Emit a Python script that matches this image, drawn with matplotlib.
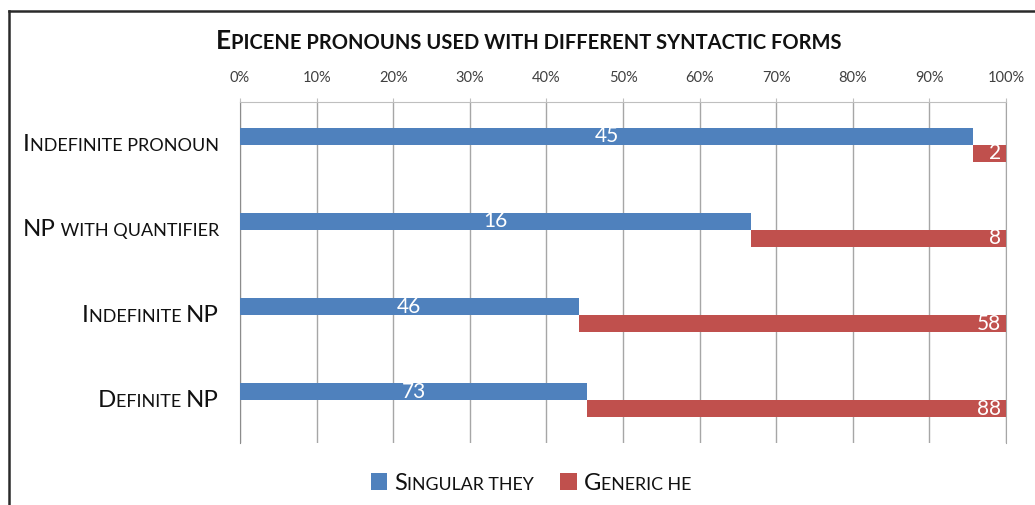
import matplotlib
matplotlib.use("Agg")
import matplotlib.pyplot as plt
import matplotlib.transforms as mtransforms
from matplotlib.offsetbox import TextArea, HPacker, AnnotationBbox, DrawingArea
from matplotlib.patches import Rectangle
from matplotlib.lines import Line2D
import numpy as np

# ---------------- data ----------------
title = "Epicene pronouns used with different syntactic forms"
categories = ["Indefinite pronoun", "NP with quantifier", "Indefinite NP", "Definite NP"]
series_names = ["Singular they", "Generic he"]
singular_they = [45, 16, 46, 73]
generic_he = [2, 8, 58, 88]
tick_values = [0, 10, 20, 30, 40, 50, 60, 70, 80, 90, 100]
tick_labels = [f"{v}%" for v in tick_values]

BLUE = "#4F81BD"
RED = "#C0504D"
FONT = "Lato"
TXT = "#111111"


def smallcaps(s, big, small, color=TXT, weight="normal"):
    runs = []
    for ch in s:
        is_big = ch.isupper() or ch.isdigit()
        if runs and runs[-1][1] == is_big:
            runs[-1][0] += ch.upper()
        else:
            runs.append([ch.upper(), is_big])
    kids = [TextArea(t, textprops=dict(fontsize=big if b else small, color=color,
                                       family=FONT, fontweight=weight))
            for t, b in runs]
    return HPacker(children=kids, align="baseline", pad=0, sep=0)


W, H = 1035, 505
fig = plt.figure(figsize=(W / 100, H / 100), dpi=100)
fig.patch.set_facecolor("white")
ax = fig.add_axes([240 / W, 1 - 443 / H, (1006 - 240) / W, (443 - 102) / H])

they = np.array(singular_they, dtype=float)
he = np.array(generic_he, dtype=float)
share_they = they / (they + he)
share_he = he / (they + he)
y = np.arange(len(categories))

bh = 0.2
ax.barh(y - bh / 2, share_they, height=bh, color=BLUE, zorder=3)
ax.barh(y + bh / 2, share_he, left=share_they, height=bh, color=RED, zorder=3)

ax.set_xlim(0, 1)
ax.set_ylim(len(categories) - 0.5, -0.5)
ax.xaxis.tick_top()
ax.set_xticks(np.array(tick_values) / 100)
ax.set_xticklabels(tick_labels, family=FONT)
ax.tick_params(axis="x", length=3, color="#bfbfbf", pad=9, labelsize=10.5,
               labelcolor="#404040")
ax.set_yticks([])
ax.grid(axis="x", color="#a6a6a6", lw=1)
ax.set_axisbelow(True)
ax.spines["bottom"].set_visible(False)
ax.spines["left"].set_color("#8c8c8c")
ax.spines["top"].set_color("#bfbfbf")
ax.spines["right"].set_color("#a6a6a6")

# data labels
off = mtransforms.offset_copy(ax.transData, fig=fig, x=-5, y=0, units="dots")
for i in range(len(categories)):
    ax.text(share_they[i] / 2, y[i] - bh / 2, str(singular_they[i]), ha="center",
            va="center", color="white", fontsize=15, family=FONT, zorder=4)
    ax.text(1.0, y[i] + bh / 2, str(generic_he[i]), ha="right", va="center",
            color="white", fontsize=15, family=FONT, zorder=4, transform=off)

# category labels (small caps)
for i, c in enumerate(categories):
    ab = AnnotationBbox(smallcaps(c, 17.3, 13), (0, y[i]), xycoords=ax.transData,
                        xybox=(-21 * 0.72, 0), boxcoords="offset points",
                        box_alignment=(1, 0.5), frameon=False, pad=0,
                        annotation_clip=False)
    ax.add_artist(ab)

# title
tb = AnnotationBbox(smallcaps(title[0].upper() + title[1:], 19, 14.5, weight="bold"),
                    (529, H - 41), xycoords="figure pixels",
                    box_alignment=(0.5, 0.5), frameon=False, pad=0)
fig.add_artist(tb)

# legend
def swatch(color):
    da = DrawingArea(12, 12, 0, 0)
    da.add_artist(Rectangle((0, 0), 12, 12, fc=color, ec="none"))
    return da

leg = HPacker(children=[swatch(BLUE), DrawingArea(5, 1, 0, 0), smallcaps(series_names[0], 17, 12.8),
                        DrawingArea(19, 1, 0, 0), swatch(RED), DrawingArea(5, 1, 0, 0),
                        smallcaps(series_names[1], 17, 12.8)],
              align="baseline", pad=0, sep=0)
lb = AnnotationBbox(leg, (531, H - 483), xycoords="figure pixels",
                    box_alignment=(0.5, 0.5), frameon=False, pad=0)
fig.add_artist(lb)

# outer frame (top and left edges visible)
fig.add_artist(Line2D([9 / W, 1.0], [1 - 11 / H, 1 - 11 / H], transform=fig.transFigure,
                      color="#2a2a2a", lw=1.8))
fig.add_artist(Line2D([9 / W, 9 / W], [0, 1 - 11 / H], transform=fig.transFigure,
                      color="#2a2a2a", lw=1.8))

fig.savefig("out.png", dpi=100, facecolor="white")
